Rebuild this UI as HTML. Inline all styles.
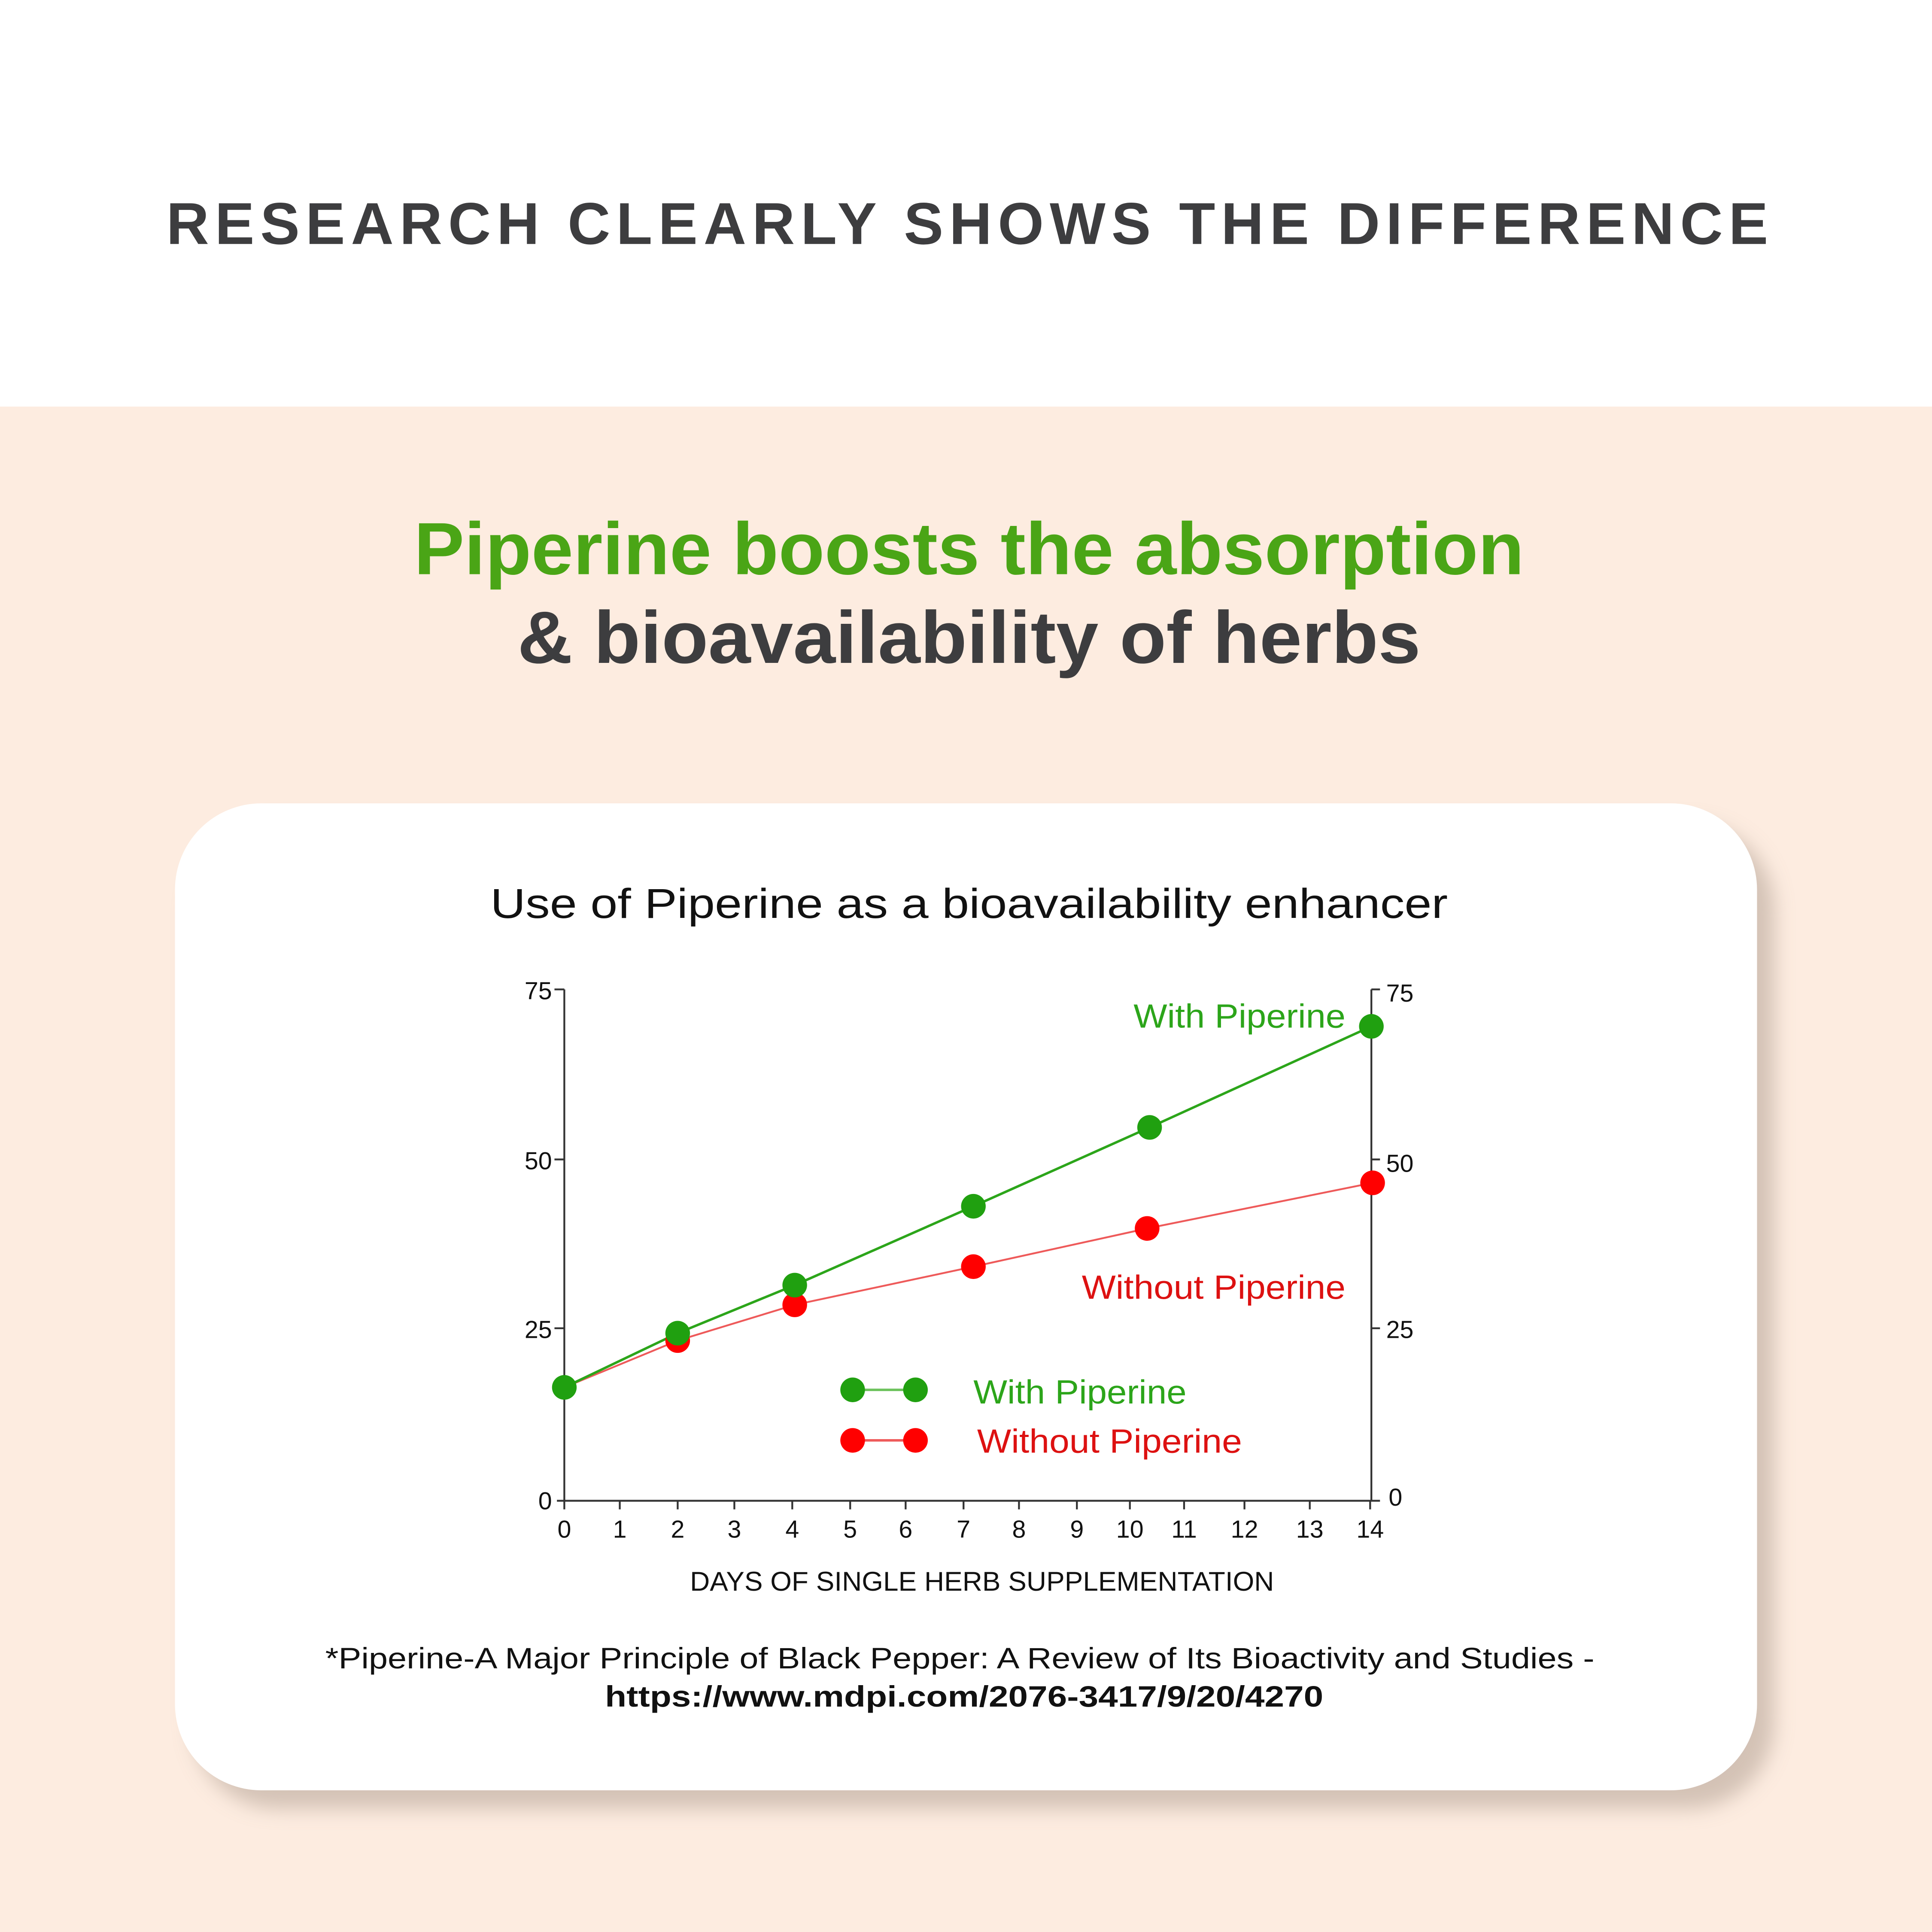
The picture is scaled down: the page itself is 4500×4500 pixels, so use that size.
<!DOCTYPE html>
<html><head><style>
html,body{margin:0;padding:0;width:4500px;height:4500px;overflow:hidden;background:#fdece0}
svg{display:block}
</style></head><body>
<svg width="4500" height="4500" viewBox="0 0 1568 1568" xmlns="http://www.w3.org/2000/svg" font-family="Liberation Sans, sans-serif">
<defs>
<filter id="sh" x="-10%" y="-10%" width="130%" height="130%"><feGaussianBlur stdDeviation="8"/></filter>
</defs>
<rect x="0" y="0" width="1568" height="330" fill="#ffffff"/>
<rect x="0" y="330" width="1568" height="1238" fill="#fdece0"/>
<text x="135" y="198" font-size="48" font-weight="bold" fill="#3d3d3f" textLength="1300" lengthAdjust="spacing">RESEARCH CLEARLY SHOWS THE DIFFERENCE</text>
<text x="336" y="466" font-size="60" font-weight="bold" fill="#4aa516" textLength="901" lengthAdjust="spacingAndGlyphs">Piperine boosts the absorption</text>
<text x="420" y="538" font-size="60" font-weight="bold" fill="#3d3d3f" textLength="733" lengthAdjust="spacingAndGlyphs">&amp; bioavailability of herbs</text>
<rect x="156" y="668" width="1284" height="800" rx="70" fill="#c9b8ab" filter="url(#sh)" opacity="0.8"/>
<rect x="142" y="652" width="1284" height="801" rx="70" fill="#ffffff"/>
<text x="398" y="745" font-size="34" fill="#111" textLength="777" lengthAdjust="spacingAndGlyphs">Use of Piperine as a bioavailability enhancer</text>
<g stroke="#333" stroke-width="1.5" fill="none">
<line x1="458" y1="803" x2="458" y2="1218"/>
<line x1="1113" y1="803" x2="1113" y2="1218"/>
<line x1="452" y1="1218" x2="1120" y2="1218"/>
<line x1="450" y1="803" x2="458" y2="803"/><line x1="450" y1="941" x2="458" y2="941"/><line x1="450" y1="1078" x2="458" y2="1078"/>
<line x1="1113" y1="803" x2="1120" y2="803"/><line x1="1113" y1="941" x2="1120" y2="941"/><line x1="1113" y1="1078" x2="1120" y2="1078"/>
<line x1="458" y1="1218" x2="458" y2="1225"/><line x1="503" y1="1218" x2="503" y2="1225"/><line x1="550" y1="1218" x2="550" y2="1225"/><line x1="596" y1="1218" x2="596" y2="1225"/><line x1="643" y1="1218" x2="643" y2="1225"/><line x1="690" y1="1218" x2="690" y2="1225"/><line x1="735" y1="1218" x2="735" y2="1225"/><line x1="782" y1="1218" x2="782" y2="1225"/><line x1="827" y1="1218" x2="827" y2="1225"/><line x1="874" y1="1218" x2="874" y2="1225"/><line x1="917" y1="1218" x2="917" y2="1225"/><line x1="961" y1="1218" x2="961" y2="1225"/><line x1="1010" y1="1218" x2="1010" y2="1225"/><line x1="1063" y1="1218" x2="1063" y2="1225"/><line x1="1112" y1="1218" x2="1112" y2="1225"/>
</g>
<g font-size="20" fill="#111">
<text x="448" y="811" text-anchor="end">75</text><text x="448" y="949" text-anchor="end">50</text><text x="448" y="1086" text-anchor="end">25</text><text x="448" y="1225" text-anchor="end">0</text>
<text x="1125" y="813">75</text><text x="1125" y="951">50</text><text x="1125" y="1086">25</text><text x="1127" y="1222">0</text>
</g>
<g font-size="20" fill="#111" text-anchor="middle">
<text x="458" y="1248">0</text><text x="503" y="1248">1</text><text x="550" y="1248">2</text><text x="596" y="1248">3</text><text x="643" y="1248">4</text><text x="690" y="1248">5</text><text x="735" y="1248">6</text><text x="782" y="1248">7</text><text x="827" y="1248">8</text><text x="874" y="1248">9</text><text x="917" y="1248">10</text><text x="961" y="1248">11</text><text x="1010" y="1248">12</text><text x="1063" y="1248">13</text><text x="1112" y="1248">14</text>
</g>
<polyline points="458,1126 550,1088 645,1059 790,1028 931,997 1114,960" fill="none" stroke="#ee5a5a" stroke-width="1.5"/>
<polyline points="458,1126 550,1082 645,1043 790,979 933,915 1113,833" fill="none" stroke="#2ca51a" stroke-width="2"/>
<g fill="#ff0000"><circle cx="550" cy="1088" r="10"/><circle cx="645" cy="1059" r="10"/><circle cx="790" cy="1028" r="10"/><circle cx="931" cy="997" r="10"/><circle cx="1114" cy="960" r="10"/></g>
<g fill="#20a010"><circle cx="458" cy="1126" r="10"/><circle cx="550" cy="1082" r="10"/><circle cx="645" cy="1043" r="10"/><circle cx="790" cy="979" r="10"/><circle cx="933" cy="915" r="10"/><circle cx="1113" cy="833" r="10"/></g>
<text x="920" y="834" font-size="27" fill="#2ca51a" textLength="172" lengthAdjust="spacingAndGlyphs">With Piperine</text>
<text x="878" y="1054" font-size="27" fill="#dd1111" textLength="214" lengthAdjust="spacingAndGlyphs">Without Piperine</text>
<line x1="692" y1="1128" x2="743" y2="1128" stroke="#6cc25c" stroke-width="2"/>
<circle cx="692" cy="1128" r="10" fill="#20a010"/><circle cx="743" cy="1128" r="10" fill="#20a010"/>
<line x1="692" y1="1169" x2="743" y2="1169" stroke="#ee5a5a" stroke-width="2"/>
<circle cx="692" cy="1169" r="10" fill="#ff0000"/><circle cx="743" cy="1169" r="10" fill="#ff0000"/>
<text x="790" y="1139" font-size="27" fill="#2ca51a" textLength="173" lengthAdjust="spacingAndGlyphs">With Piperine</text>
<text x="793" y="1179" font-size="27" fill="#dd1111" textLength="215" lengthAdjust="spacingAndGlyphs">Without Piperine</text>
<text x="560" y="1291" font-size="22" fill="#111" textLength="474" lengthAdjust="spacingAndGlyphs">DAYS OF SINGLE HERB SUPPLEMENTATION</text>
<text x="264" y="1354" font-size="24" fill="#111" textLength="1030" lengthAdjust="spacingAndGlyphs">*Piperine-A Major Principle of Black Pepper: A Review of Its Bioactivity and Studies -</text>
<text x="491" y="1385" font-size="24" font-weight="bold" fill="#111" textLength="583" lengthAdjust="spacingAndGlyphs">https://www.mdpi.com/2076-3417/9/20/4270</text>
</svg>
</body></html>
